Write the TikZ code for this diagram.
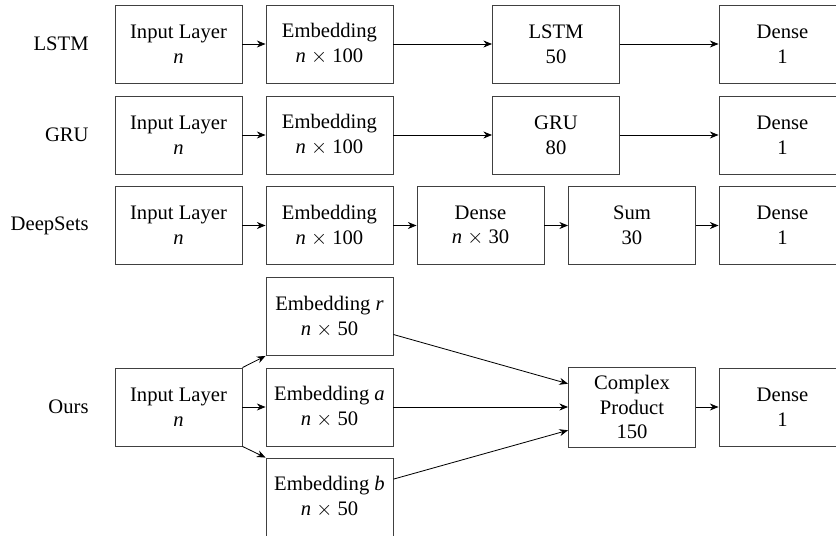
\documentclass[tikz,border=0pt]{standalone}
\usepackage{fontspec}
\setmainfont{Liberation Serif}
\usetikzlibrary{arrows.meta}
\begin{document}
\begin{tikzpicture}[x=0.485pt,y=-0.485pt,
  box/.style={draw=black!75, line width=0.45pt, minimum width=61.6pt, minimum height=37.8pt, align=center, inner sep=2pt, font=\fontsize{10}{12}\selectfont},
  arr/.style={-{Stealth[length=4.2pt,width=3.4pt]}, line width=0.4pt, black},
  lbl/.style={anchor=east, inner sep=0pt, font=\fontsize{10}{12}\selectfont}]
\useasboundingbox (0,0) rectangle (836,536);
% row labels
\node[lbl] (l1) at (89,44) {LSTM};
\node[lbl] (l2) at (89,135) {GRU};
\node[lbl] (l3) at (89,225.5) {DeepSets};
\node[lbl] (l4) at (89,407) {Ours};
% row 1
\node[box] (i1) at (178.5,44) {Input Layer\\\textit{n}};
\node[box] (e1) at (329.5,44) {Embedding\\\textit{n} $\times$ 100};
\node[box] (m1) at (556,44) {LSTM\\50};
\node[box] (d1) at (782.5,44) {Dense\\1};
\draw[arr] (i1) -- (e1);
\draw[arr] (e1) -- (m1);
\draw[arr] (m1) -- (d1);
% row 2
\node[box] (i2) at (178.5,135) {Input Layer\\\textit{n}};
\node[box] (e2) at (329.5,135) {Embedding\\\textit{n} $\times$ 100};
\node[box] (m2) at (556,135) {GRU\\80};
\node[box] (d2) at (782.5,135) {Dense\\1};
\draw[arr] (i2) -- (e2);
\draw[arr] (e2) -- (m2);
\draw[arr] (m2) -- (d2);
% row 3
\node[box] (i3) at (178.5,225.5) {Input Layer\\\textit{n}};
\node[box] (e3) at (329.5,225.5) {Embedding\\\textit{n} $\times$ 100};
\node[box] (f3) at (480.5,225.5) {Dense\\\textit{n} $\times$ 30};
\node[box] (s3) at (632,225.5) {Sum\\30};
\node[box] (d3) at (782.5,225.5) {Dense\\1};
\draw[arr] (i3) -- (e3);
\draw[arr] (e3) -- (f3);
\draw[arr] (f3) -- (s3);
\draw[arr] (s3) -- (d3);
% row 4
\node[box] (i4) at (178.5,407) {Input Layer\\\textit{n}};
\node[box] (er) at (329.5,316.5) {Embedding \textit{r}\\\textit{n} $\times$ 50};
\node[box] (ea) at (329.5,407) {Embedding \textit{a}\\\textit{n} $\times$ 50};
\node[box] (eb) at (329.5,497) {Embedding \textit{b}\\\textit{n} $\times$ 50};
\node[box, minimum height=38.8pt] (cp) at (632,407) {Complex\\Product\\150};
\node[box] (d4) at (782.5,407) {Dense\\1};
\draw[arr] (i4.north east) -- (er.south west);
\draw[arr] (i4) -- (ea);
\draw[arr] (i4.south east) -- (eb.north west);
\draw[arr] (er) -- (cp.160);
\draw[arr] (ea) -- (cp);
\draw[arr] (eb) -- (cp.200);
\draw[arr] (cp) -- (d4);
\end{tikzpicture}
\end{document}
